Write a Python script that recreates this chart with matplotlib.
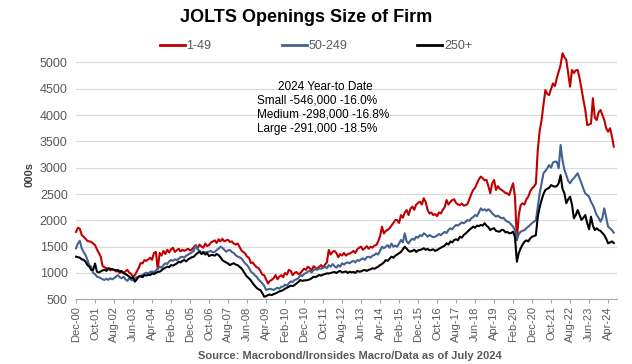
import matplotlib
matplotlib.use("Agg")
import matplotlib.pyplot as plt
import numpy as np
import pandas as pd
from matplotlib.lines import Line2D

plt.rcParams["font.family"] = ["Liberation Sans", "DejaVu Sans"]

# monthly, Dec-2000 .. Jul-2024 (thousands)
dates = pd.date_range("2000-12-01", periods=284, freq="MS")

small = [1780,
    1860, 1840, 1720, 1690, 1650, 1610, 1600, 1590, 1560, 1530, 1450, 1380,  # 2001
    1310, 1130, 1110, 1090, 1080, 1050, 1070, 1060, 1030, 1040, 1000, 1020,  # 2002
    1000, 1030, 1060, 1010, 980, 930, 960, 1030, 1100, 1190, 1180, 1245,     # 2003
    1230, 1260, 1290, 1250, 1380, 1400, 1070, 1380, 1330, 1420, 1360, 1440,  # 2004
    1390, 1450, 1480, 1400, 1430, 1460, 1410, 1440, 1420, 1440, 1460, 1430,  # 2005
    1450, 1490, 1530, 1470, 1540, 1500, 1480, 1560, 1510, 1530, 1580, 1600,  # 2006
    1620, 1570, 1640, 1600, 1650, 1600, 1620, 1630, 1590, 1600, 1560, 1540,  # 2007
    1560, 1500, 1430, 1400, 1370, 1310, 1290, 1190, 1200, 1150, 1110, 1095,  # 2008
    1040, 970, 960, 880, 800, 850, 870, 900, 960, 880, 930, 960,             # 2009
    920, 1000, 970, 1060, 1040, 960, 1000, 1020, 980, 993, 1040, 1080,       # 2010
    1060, 1120, 1090, 1050, 1130, 1100, 1080, 1120, 1150, 1100, 1160, 1200,  # 2011
    1437, 1350, 1400, 1420, 1380, 1300, 1360, 1330, 1380, 1330, 1360, 1370,  # 2012
    1390, 1420, 1380, 1450, 1480, 1500, 1440, 1470, 1510, 1460, 1500, 1480,  # 2013
    1520, 1530, 1600, 1700, 1880, 1750, 1800, 1820, 1850, 1900, 1950, 2006,  # 2014
    2006, 1950, 2100, 2050, 2150, 2196, 2100, 2220, 2260, 2200, 2300, 2330,  # 2015
    2355, 2300, 2420, 2350, 2200, 2130, 2150, 2100, 2120, 2080, 2150, 2130,  # 2016
    2200, 2250, 2386, 2300, 2350, 2386, 2400, 2330, 2300, 2290, 2320, 2280,  # 2017
    2290, 2310, 2400, 2500, 2576, 2620, 2700, 2780, 2830, 2800, 2760, 2770,  # 2018
    2650, 2513, 2700, 2767, 2577, 2650, 2600, 2577, 2550, 2520, 2513, 2480,  # 2019
    2600, 2704, 2450, 1627, 2100, 2290, 2324, 2300, 2400, 2450, 2550, 2610,  # 2020
    2640, 2700, 3337, 3700, 3900, 4200, 4476, 4400, 4380, 4500, 4600, 4550,  # 2021
    4700, 4825, 4950, 5174, 5100, 5047, 4800, 4540, 4857, 4800, 4850, 4857,  # 2022
    4700, 4500, 4287, 4100, 3810, 3820, 3840, 4320, 3950, 3906, 4050, 4096,  # 2023
    4000, 3906, 3750, 3684, 3750, 3600, 3400]                                # 2024

medium = [1470,
    1560, 1610, 1470, 1400, 1340, 1250, 1150, 1120, 1000, 980, 930, 920,     # 2001
    900, 880, 867, 890, 870, 900, 880, 900, 930, 960, 920, 900,              # 2002
    930, 880, 850, 900, 870, 860, 900, 920, 930, 950, 960, 990,              # 2003
    1005, 990, 1020, 1030, 1010, 1050, 1080, 1120, 1100, 1150, 1185, 1170,   # 2004
    1220, 1246, 1230, 1260, 1246, 1270, 1300, 1310, 1290, 1330, 1350, 1374,  # 2005
    1400, 1420, 1530, 1450, 1420, 1380, 1405, 1390, 1400, 1405, 1420, 1390,  # 2006
    1400, 1437, 1460, 1500, 1480, 1440, 1405, 1430, 1437, 1400, 1380, 1340,  # 2007
    1310, 1300, 1280, 1230, 1180, 1152, 1100, 1025, 1000, 960, 930, 880,     # 2008
    840, 805, 760, 677, 690, 700, 690, 677, 700, 720, 700, 740,              # 2009
    740, 780, 760, 805, 840, 830, 867, 880, 900, 962, 940, 980,              # 2010
    1000, 1025, 1040, 1010, 1057, 1070, 1060, 1090, 1080, 1100, 1120, 1090,  # 2011
    1150, 1120, 1170, 1130, 1100, 1150, 1120, 1185, 1160, 1190, 1200, 1185,  # 2012
    1215, 1230, 1200, 1246, 1230, 1260, 1280, 1250, 1300, 1310, 1290, 1330,  # 2013
    1340, 1374, 1350, 1420, 1500, 1470, 1500, 1530, 1480, 1560, 1500, 1520,  # 2014
    1500, 1560, 1627, 1580, 1754, 1600, 1560, 1620, 1650, 1630, 1690, 1670,  # 2015
    1720, 1700, 1754, 1730, 1690, 1720, 1700, 1680, 1690, 1710, 1740, 1720,  # 2016
    1754, 1780, 1760, 1817, 1850, 1830, 1880, 1912, 1900, 1930, 1960, 1945,  # 2017
    1970, 2006, 1990, 2040, 2060, 2100, 2080, 2150, 2229, 2190, 2210, 2180,  # 2018
    2210, 2180, 2134, 2100, 2070, 2090, 2060, 2040, 2050, 2000, 1975, 1960,  # 2019
    1920, 1880, 1815, 1627, 1740, 1785, 1800, 1815, 1850, 1880, 1912, 1950,  # 2020
    1975, 2000, 2260, 2513, 2700, 2894, 2940, 2990, 3050, 3000, 3100, 3115,  # 2021
    3115, 2990, 3431, 3146, 2960, 2860, 2750, 2704, 2767, 2800, 2850, 2894,  # 2022
    2800, 2704, 2600, 2513, 2480, 2450, 2350, 2290, 2200, 2100, 2050, 1975,  # 2023
    2050, 2229, 2050, 1880, 1850, 1815, 1766]                                # 2024

large = [1310,
    1300, 1290, 1260, 1250, 1215, 1150, 1120, 1057, 1060, 1180, 1025, 1010,  # 2001
    1030, 1050, 1060, 1040, 1090, 1080, 1070, 1060, 1050, 1057, 1030, 1040,  # 2002
    993, 980, 960, 930, 900, 920, 835, 880, 930, 940, 920, 962,              # 2003
    950, 970, 960, 993, 980, 1000, 1020, 1025, 1050, 1080, 1100, 1120,       # 2004
    1110, 1150, 1140, 1160, 1180, 1215, 1200, 1230, 1246, 1220, 1260, 1280,  # 2005
    1300, 1310, 1350, 1380, 1405, 1360, 1390, 1350, 1374, 1320, 1340, 1340,  # 2006
    1330, 1360, 1340, 1300, 1246, 1220, 1200, 1180, 1150, 1170, 1185, 1160,  # 2007
    1150, 1120, 1090, 1040, 980, 930, 900, 860, 805, 760, 720, 690,          # 2008
    677, 620, 550, 560, 580, 590, 580, 600, 612, 630, 650, 660,              # 2009
    677, 700, 720, 740, 760, 750, 772, 800, 830, 867, 850, 860,              # 2010
    860, 867, 880, 900, 930, 920, 940, 962, 950, 970, 980, 993,              # 2011
    990, 1000, 1010, 1020, 1000, 1025, 1040, 1010, 1020, 1030, 1000, 1025,   # 2012
    1010, 1020, 1000, 1040, 1025, 1030, 1050, 1057, 1040, 1060, 1070, 1090,  # 2013
    1080, 1100, 1120, 1150, 1170, 1200, 1246, 1230, 1270, 1310, 1290, 1330,  # 2014
    1350, 1374, 1400, 1450, 1500, 1460, 1420, 1405, 1420, 1440, 1400, 1430,  # 2015
    1437, 1450, 1470, 1440, 1460, 1430, 1437, 1450, 1420, 1437, 1460, 1480,  # 2016
    1500, 1520, 1564, 1540, 1600, 1580, 1627, 1640, 1620, 1690, 1670, 1720,  # 2017
    1750, 1785, 1820, 1850, 1880, 1860, 1900, 1890, 1912, 1900, 1945, 1900,  # 2018
    1870, 1815, 1840, 1850, 1800, 1790, 1785, 1820, 1815, 1770, 1780, 1753,  # 2019
    1760, 1785, 1680, 1214, 1380, 1470, 1540, 1594, 1620, 1600, 1657, 1690,  # 2020
    1700, 1721, 2070, 2250, 2386, 2500, 2577, 2600, 2620, 2670, 2650, 2640,  # 2021
    2650, 2704, 2860, 2600, 2513, 2324, 2400, 2450, 2300, 2040, 2100, 2196,  # 2022
    2100, 2010, 2050, 2100, 1950, 1830, 2070, 1900, 1815, 1850, 1815, 1800,  # 2023
    1760, 1720, 1650, 1564, 1580, 1600, 1570]                                # 2024

series = [("1-49", small, "#C00000"),
          ("50-249", medium, "#44618F"),
          ("250+", large, "#000000")]

ytd_lines = ["Small -546,000 -16.0%",
             "Medium -298,000 -16.8%",
             "Large -291,000 -18.5%"]

fig = plt.figure(figsize=(6.32, 3.64), dpi=100)
ax = fig.add_axes([0.1203, 0.1777, 0.856, 0.687])

x = np.arange(len(dates))
for name, vals, col in series:
    ax.plot(x, vals, color=col, lw=1.5, label=name, clip_on=False, zorder=3)

ax.set_xlim(0, 284.7)
ax.set_ylim(500, 5250)
ax.set_yticks(np.arange(500, 5001, 500))
ax.tick_params(axis="y", length=0, labelsize=9, colors="#595959", pad=6)
ax.grid(axis="y", color="#d9d9d9", lw=0.8, zorder=0)
ax.set_axisbelow(True)

ax.set_xticks(x[::10])
ax.set_xticklabels([d.strftime("%b-%y") for d in dates[::10]], rotation=90,
                   fontsize=8, color="#595959")
ax.tick_params(axis="x", length=3, color="#a6a6a6", pad=2)

for s in ["top", "right", "left"]:
    ax.spines[s].set_visible(False)
ax.spines["bottom"].set_color("#a6a6a6")
ax.spines["bottom"].set_linewidth(0.8)

ax.set_ylabel("000s", fontsize=8, fontweight="bold", color="#404040", labelpad=4)

fig.text(0.484, 0.953, "JOLTS Openings Size of Firm", ha="center", va="center",
         fontsize=13, fontweight="bold")

handles = [Line2D([], [], color=c, lw=2) for _, _, c in series]
fig.legend(handles, [n for n, _, _ in series], loc="center",
           bbox_to_anchor=(0.5, 0.873), ncol=3, frameon=False, fontsize=9,
           handlelength=2.0, handletextpad=0.15, columnspacing=5.6,
           labelcolor="#595959")

ax.text(0.46, 0.85, "2024 Year-to Date", transform=ax.transAxes,
        ha="center", va="center", fontsize=8.5)
for i, line in enumerate(ytd_lines):
    ax.text(0.334, 0.795 - i * 0.056, line, transform=ax.transAxes,
            ha="left", va="center", fontsize=8.5)

fig.text(0.553, 0.022, "Source: Macrobond/Ironsides Macro/Data as of July 2024",
         ha="center", va="center", fontsize=8, fontweight="bold",
         color="#595959", family=["Liberation Sans Narrow", "Liberation Sans"])

fig.savefig("out.png", dpi=100)
